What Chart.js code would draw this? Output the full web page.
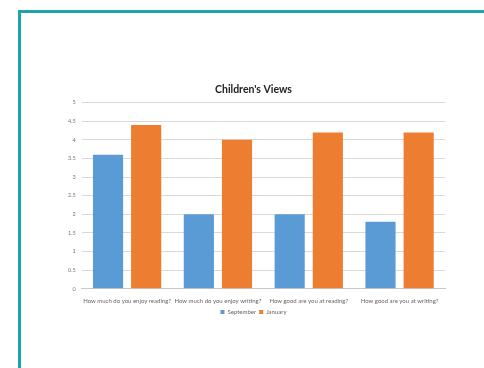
<!DOCTYPE html>
<html>
<head>
<meta charset="utf-8">
<script src="https://cdn.jsdelivr.net/npm/chart.js@4"></script>
<style>
    html, body { margin: 0; padding: 0; background: #fff; }
    body { width: 484px; height: 368px; overflow: hidden; position: relative; }
    #marco {
        position: absolute; left: 18px; top: 10px; width: 480px; height: 370px;
        border-left: 3px solid #1fa3aa; border-top: 3px solid #1fa3aa;
    }
    #caja { position: absolute; left: 0; top: 0; width: 484px; height: 368px; }
</style>
</head>
<body>
<div id="marco"></div>
<div id="caja"><canvas id="graficoVistas"></canvas></div>
<script>
// Datos del gráfico
const preguntas = [
    "How much do you enjoy reading?",
    "How much do you enjoy writing?",
    "How good are you at reading?",
    "How good are you at writing?"
];
const septiembre = [3.6, 2, 2, 1.8];
const enero = [4.4, 4, 4.2, 4.2];

document.addEventListener("DOMContentLoaded", () => {
    const graficoVistas = document.getElementById("graficoVistas");

    new Chart(graficoVistas, {
        type: "bar",
        data: {
            labels: preguntas,
            datasets: [{
                label: "September",
                data: septiembre,
                backgroundColor: "#5b9bd5",
                categoryPercentage: 0.84,
                barPercentage: 0.79
            }, {
                label: "January",
                data: enero,
                backgroundColor: "#ed7d31",
                categoryPercentage: 0.84,
                barPercentage: 0.79
            }]
        },
        options: {
            responsive: true,
            maintainAspectRatio: false,
            animation: false,
            layout: { padding: { left: 62, right: 39, top: 83, bottom: 43 } },
            plugins: {
                title: {
                    display: true,
                    text: "Children's Views",
                    color: "#222",
                    font: { family: "Lato", size: 10.5, weight: "bold" },
                    padding: { top: 0, bottom: 7 }
                },
                legend: {
                    position: "bottom",
                    labels: {
                        boxWidth: 4,
                        boxHeight: 4,
                        padding: 3,
                        color: "#666",
                        font: { family: "Lato", size: 6 }
                    }
                },
                tooltip: { enabled: false }
            },
            scales: {
                x: {
                    grid: { display: false },
                    border: { color: "#c8c8c8" },
                    ticks: {
                        color: "#666",
                        maxRotation: 0,
                        autoSkip: false,
                        padding: 1,
                        font: { family: "Lato", size: 6 }
                    }
                },
                y: {
                    min: 0,
                    max: 5,
                    grid: { color: "#d9d9d9", drawTicks: false },
                    border: { display: false },
                    ticks: {
                        stepSize: 0.5,
                        color: "#777",
                        padding: 6,
                        font: { family: "Lato", size: 5.5 },
                        callback: (valor) => String(valor)
                    }
                }
            }
        }
    });
});
</script>
</body>
</html>
